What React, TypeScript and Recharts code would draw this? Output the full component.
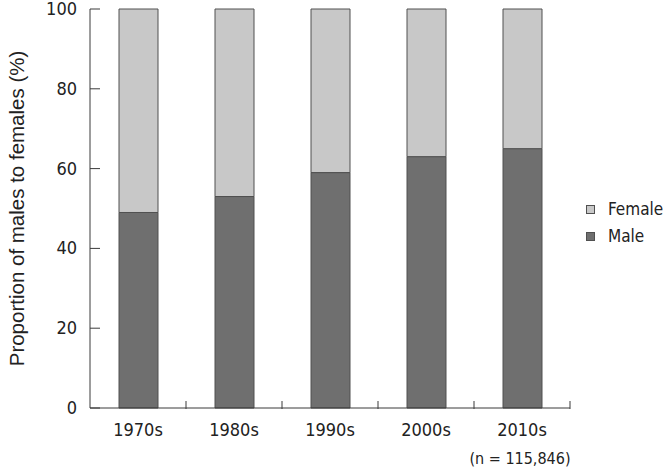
import { Bar, BarChart, XAxis, YAxis } from "recharts"

const decades = ["1970s", "1980s", "1990s", "2000s", "2010s"]
const maleShare = [49, 53, 59, 63, 65]
const femaleShare = [51, 47, 41, 37, 35]
const yTicks = [0, 20, 40, 60, 80, 100]

const data = decades.map((decade, i) => ({
  decade,
  male: maleShare[i],
  female: femaleShare[i],
}))

const font = "'DejaVu Sans Condensed', 'Liberation Sans Narrow', 'Liberation Sans', sans-serif"
const labelFont = "'Liberation Sans', Arial, sans-serif"
const axisColor = "#3a3a3a"
const maleColor = "#6f6f6f"
const femaleColor = "#c8c8c8"
const edgeColor = "#505050"

const legendItems = [
  { label: "Female", color: femaleColor },
  { label: "Male", color: maleColor },
]

const YTick = (props: any) => {
  const { x, y, payload } = props
  return (
    <g>
      <line x1={x + 13} x2={x + 23} y1={y} y2={y} stroke={axisColor} strokeWidth={1} />
      <text x={x} y={y} dy={6} textAnchor="end" fontSize={18} fontFamily={font} fill="#222">
        {payload.value}
      </text>
    </g>
  )
}

const XTick = (props: any) => {
  const { x, y, payload } = props
  return (
    <g>
      <line x1={x + 48} x2={x + 48} y1={y - 1} y2={y - 9} stroke={axisColor} strokeWidth={1} />
      <text x={x} y={y} dy={26} textAnchor="middle" fontSize={18} fontFamily={font} fill="#222">
        {payload.value}
      </text>
    </g>
  )
}

export default function App() {
  return (
    <div style={{ position: "absolute", left: 0, top: 0, width: 667, height: 470, background: "#fff", overflow: "hidden" }}>
      <BarChart
        width={667}
        height={470}
        data={data}
        margin={{ top: 9, right: 97, bottom: 30, left: 0 }}
        barSize={39}
      >
        <XAxis
          dataKey="decade"
          height={32}
          tick={<XTick />}
          tickLine={false}
          tickSize={0}
          axisLine={{ stroke: axisColor }}
          interval={0}
        />
        <YAxis
          width={90}
          domain={[0, 100]}
          ticks={yTicks}
          tick={<YTick />}
          tickLine={false}
          tickSize={0}
          tickMargin={13}
          axisLine={{ stroke: axisColor }}
          label={{
            value: "Proportion of males to females (%)",
            angle: -90,
            position: "insideLeft",
            offset: 17,
            style: { textAnchor: "middle", fontSize: 20.5, fontFamily: labelFont, fill: "#222" },
          }}
        />
        <Bar dataKey="male" stackId="s" fill={maleColor} stroke={edgeColor} strokeWidth={1} isAnimationActive={false} />
        <Bar dataKey="female" stackId="s" fill={femaleColor} stroke={edgeColor} strokeWidth={1} isAnimationActive={false} />
      </BarChart>
      <div
        style={{
          position: "absolute",
          left: 586,
          top: 196,
          fontFamily: font,
          fontSize: 17,
          color: "#222",
          lineHeight: "27px",
        }}
      >
        {legendItems.map((item) => (
          <div key={item.label} style={{ display: "flex", alignItems: "center", whiteSpace: "nowrap" }}>
            <span
              style={{
                display: "inline-block",
                width: 7,
                height: 7,
                background: item.color,
                border: `1px solid ${edgeColor}`,
                marginRight: 13,
              }}
            />
            {item.label}
          </div>
        ))}
      </div>
      <div
        style={{
          position: "absolute",
          left: 420,
          top: 449,
          width: 200,
          textAlign: "center",
          fontFamily: font,
          fontSize: 16,
          color: "#222",
          whiteSpace: "nowrap",
        }}
      >
        (n = 115,846)
      </div>
    </div>
  )
}
